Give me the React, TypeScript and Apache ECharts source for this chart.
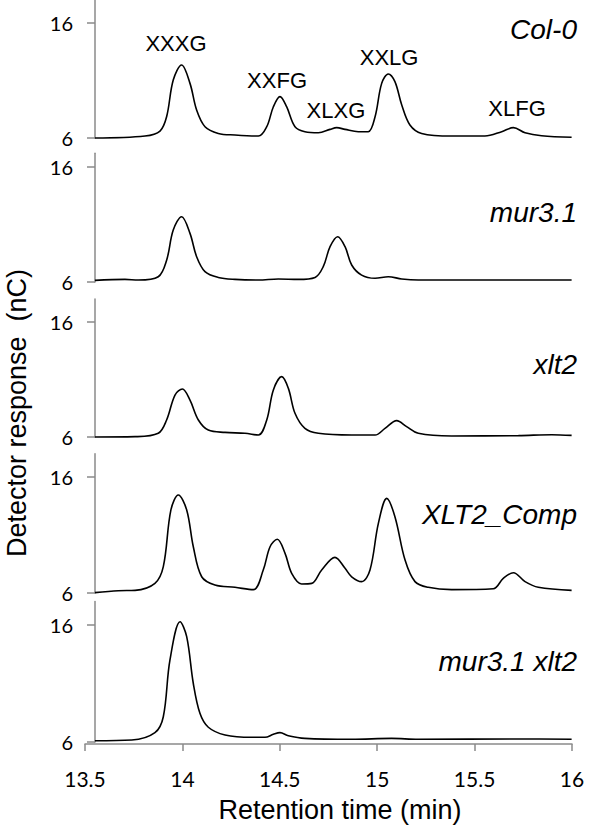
import React, { useEffect, useRef } from "react";
import * as echarts from "echarts";

// ---- data ----
const xTickValues = [13.5, 14, 14.5, 15, 15.5, 16];
const yTickValues = [6, 16];
const sampleNames = ["Col-0", "mur3.1", "xlt2", "XLT2_Comp", "mur3.1 xlt2"];

const col0Times = [13.551, 13.808, 13.885, 13.919, 13.953, 13.996, 14.039, 14.073, 14.116, 14.184, 14.27, 14.39, 14.433, 14.467, 14.501, 14.535, 14.578, 14.629, 14.698, 14.758, 14.792, 14.835, 14.903, 14.954, 14.989, 15.023, 15.057, 15.091, 15.126, 15.168, 15.228, 15.382, 15.553, 15.639, 15.699, 15.759, 15.844, 15.998];
const col0Values = [6.0, 6.17, 6.6, 7.85, 11.04, 12.35, 10.75, 8.43, 6.98, 6.4, 6.26, 6.17, 6.98, 8.72, 9.6, 8.72, 6.98, 6.55, 6.46, 6.75, 6.9, 6.75, 6.55, 6.55, 7.85, 10.75, 11.57, 10.9, 8.87, 7.13, 6.4, 6.17, 6.17, 6.55, 6.9, 6.46, 6.2, 6.06];

const mur31Times = [13.551, 13.705, 13.774, 13.876, 13.919, 13.953, 13.996, 14.039, 14.073, 14.116, 14.184, 14.27, 14.39, 14.492, 14.595, 14.681, 14.723, 14.758, 14.797, 14.835, 14.869, 14.92, 14.989, 15.057, 15.126, 15.211, 15.998];
const mur31Values = [6.14, 6.23, 6.17, 6.46, 7.9, 10.52, 11.68, 10.23, 8.2, 6.9, 6.4, 6.23, 6.17, 6.26, 6.23, 6.4, 7.33, 9.07, 9.94, 9.07, 7.48, 6.6, 6.32, 6.46, 6.26, 6.17, 6.17];

const xlt2Times = [13.551, 13.757, 13.876, 13.919, 13.962, 14.0, 14.039, 14.082, 14.133, 14.219, 14.321, 14.39, 14.433, 14.467, 14.51, 14.544, 14.578, 14.629, 14.698, 14.869, 14.989, 15.04, 15.1, 15.151, 15.211, 15.382, 15.725, 15.896, 15.998];
const xlt2Values = [6.0, 6.03, 6.32, 7.48, 9.65, 10.17, 9.2, 7.48, 6.6, 6.4, 6.32, 6.17, 7.48, 10.09, 11.25, 10.23, 8.06, 6.75, 6.32, 6.17, 6.17, 6.75, 7.42, 6.9, 6.32, 6.09, 6.12, 6.2, 6.14];

const compTimes = [13.551, 13.671, 13.757, 13.859, 13.902, 13.941, 13.979, 14.022, 14.056, 14.099, 14.167, 14.27, 14.364, 14.415, 14.45, 14.487, 14.527, 14.561, 14.612, 14.664, 14.715, 14.783, 14.835, 14.869, 14.92, 14.963, 15.006, 15.049, 15.091, 15.143, 15.194, 15.262, 15.382, 15.596, 15.647, 15.699, 15.759, 15.827, 15.998];
const compValues = [6.03, 6.2, 6.23, 6.83, 8.27, 13.16, 14.45, 13.16, 9.99, 7.4, 6.69, 6.49, 6.29, 7.98, 9.99, 10.63, 9.42, 7.7, 6.78, 6.83, 7.98, 9.07, 8.13, 7.4, 6.98, 7.98, 12.0, 14.16, 12.58, 8.84, 6.98, 6.49, 6.29, 6.37, 7.26, 7.75, 6.98, 6.49, 6.23];

const doubleTimes = [13.551, 13.74, 13.859, 13.902, 13.936, 13.988, 14.022, 14.056, 14.09, 14.133, 14.219, 14.356, 14.424, 14.467, 14.501, 14.544, 14.629, 14.869, 15.074, 15.211, 15.725, 15.998];
const doubleValues = [6.11, 6.17, 6.8, 8.16, 13.0, 16.28, 15.0, 11.0, 8.45, 7.26, 6.6, 6.4, 6.4, 6.66, 6.8, 6.54, 6.31, 6.23, 6.31, 6.23, 6.26, 6.23];

const peakNames = ["XXXG", "XXFG", "XLXG", "XXLG", "XLFG"];
const peakLabelTimes = [13.967, 14.486, 14.788, 15.061, 15.718];
const peakLabelValues = [14.26, 11.0, 8.39, 13.04, 8.57];

const traces = [
  [col0Times, col0Values],
  [mur31Times, mur31Values],
  [xlt2Times, xlt2Values],
  [compTimes, compValues],
  [doubleTimes, doubleValues],
];

// ---- layout ----
const panelLayout = [
  { top: 0, height: 138, max: 18 },
  { top: 153.2, height: 128.8, max: 17.2 },
  { top: 299, height: 138, max: 18 },
  { top: 453.8, height: 139.2, max: 18 },
  { top: 601.6, height: 140.4, max: 18 },
];
const sampleLabelY = [29, 212, 364, 514, 661];

const AXIS_GRAY = "#8a8a8a";
const TICK_FONT = "Lato";
const TEXT_FONT = "Liberation Sans";

export default function App() {
  const ref = useRef<HTMLDivElement>(null);

  useEffect(() => {
    document.body.style.margin = "0";
    if (!ref.current) return;
    const chart = echarts.init(ref.current, undefined, { renderer: "svg" });

    const grids = panelLayout.map((p) => ({
      left: 85,
      right: 28,
      top: p.top,
      height: p.height,
      containLabel: false,
    }));

    const xAxes = panelLayout.map((p, i) => {
      const isBottom = i === panelLayout.length - 1;
      return {
        type: "value",
        gridIndex: i,
        min: 13.5,
        max: 16,
        interval: 0.5,
        show: isBottom,
        offset: 2,
        axisLine: { show: true, lineStyle: { color: AXIS_GRAY, width: 1.5 } },
        axisTick: {
          show: true,
          length: 7,
          lineStyle: { color: AXIS_GRAY, width: 1.5 },
          customValues: xTickValues,
        },
        axisLabel: {
          show: true,
          margin: 24,
          color: "#000",
          fontSize: 21,
          fontFamily: TICK_FONT,
          customValues: xTickValues,
          formatter: (v: number) => String(v),
        },
        splitLine: { show: false },
      };
    });

    const yAxes = panelLayout.map((p, i) => ({
      type: "value",
      gridIndex: i,
      min: 6,
      max: p.max,
      interval: 10,
      offset: -10,
      axisLine: { show: true, lineStyle: { color: AXIS_GRAY, width: 1.5 } },
      axisTick: {
        show: true,
        length: 8,
        lineStyle: { color: AXIS_GRAY, width: 1.5 },
        customValues: yTickValues,
      },
      axisLabel: {
        show: true,
        margin: 22,
        color: "#000",
        fontSize: 20,
        fontFamily: TICK_FONT,
        customValues: yTickValues,
      },
      splitLine: { show: false },
    }));

    const series = traces.map(([ts, vs], i) => {
      const s: any = {
        type: "line",
        xAxisIndex: i,
        yAxisIndex: i,
        data: ts.map((t, k) => [t, vs[k]]),
        symbol: "none",
        showSymbol: false,
        smooth: 0.35,
        lineStyle: { color: "#000", width: 1.6 },
        silent: true,
        clip: false,
      };
      if (i === 0) {
        s.markPoint = {
          symbol: "circle",
          symbolSize: 2,
          itemStyle: { color: "transparent", borderWidth: 0 },
          silent: true,
          label: {
            show: true,
            position: "inside",
            color: "#000",
            fontSize: 22,
            fontFamily: TEXT_FONT,
            formatter: (p: any) => p.name,
          },
          data: peakNames.map((n, k) => ({
            name: n,
            coord: [peakLabelTimes[k], peakLabelValues[k]],
          })),
        };
      }
      return s;
    });

    const graphic: any[] = sampleNames.map((n, i) => ({
      type: "text",
      x: 577,
      y: sampleLabelY[i],
      silent: true,
      style: {
        text: n,
        fill: "#000",
        fontSize: 28,
        fontStyle: "italic",
        fontFamily: TEXT_FONT,
        align: "right",
        textAlign: "right",
        verticalAlign: "middle",
        textVerticalAlign: "middle",
      },
    }));
    graphic.push({
      type: "text",
      x: 17,
      y: 413,
      rotation: Math.PI / 2,
      silent: true,
      style: {
        text: "Detector response  (nC)",
        fill: "#000",
        fontSize: 27,
        fontFamily: TEXT_FONT,
        align: "center",
        textAlign: "center",
        verticalAlign: "middle",
        textVerticalAlign: "middle",
      },
    });
    graphic.push({
      type: "text",
      x: 340,
      y: 810,
      silent: true,
      style: {
        text: "Retention time (min)",
        fill: "#000",
        fontSize: 27,
        fontFamily: TEXT_FONT,
        align: "center",
        textAlign: "center",
        verticalAlign: "middle",
        textVerticalAlign: "middle",
      },
    });

    chart.setOption({
      animation: false,
      backgroundColor: "#fff",
      grid: grids,
      xAxis: xAxes,
      yAxis: yAxes,
      series,
      graphic,
    });

    return () => chart.dispose();
  }, []);

  return <div ref={ref} style={{ width: 600, height: 833 }} />;
}
